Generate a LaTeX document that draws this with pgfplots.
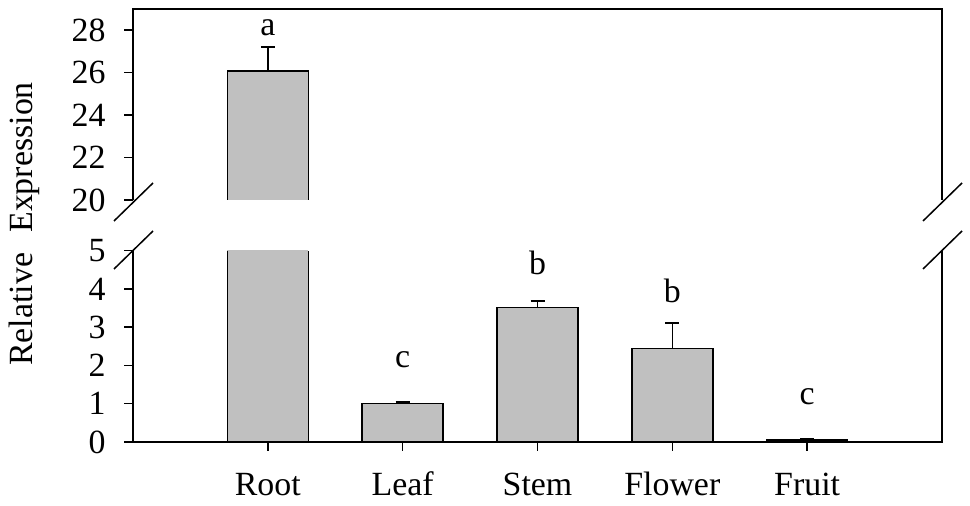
\documentclass[border=0pt]{standalone}
\usepackage{fontspec}
\setmainfont{Liberation Serif}
\usepackage{pgfplots}
\pgfplotsset{compat=1.18}
\usepackage{pgfplotstable}
\definecolor{barfill}{RGB}{192,192,192}
\pgfplotstableread{
x y e
2 1.00 0.05
3 3.51 0.17
4 2.45 0.66
5 0.05 0.04
}\data
\pgfplotstableread{
x y e
1 26.07 1.14
}\rootdata
\pgfplotsset{
  brk/.style={
    scale only axis, width=809bp, height=191bp,
    xmin=0, xmax=6,
    axis line style={draw=none},
    tick align=outside, major tick length=9bp,
    every tick/.style={black, line width=1.5bp},
    ytick pos=left, xtick pos=bottom,
    clip mode=individual,
    /pgf/number format/assume math mode=true,
    yticklabel style={xshift=-7bp},
    xticklabel style={text height=22bp, text depth=0pt, yshift=-11bp},
    anchor=south west,
  },
  barplot/.style={ybar, bar width=0.6, bar shift=0pt,
    fill=barfill, draw=black, line width=1.5bp,
    error bars/.cd, y dir=plus, y explicit,
    error bar style={line width=1.5bp, black},
    error mark options={black, line width=1.5bp, mark size=7bp, rotate=90}},
  rootfill/.style={ybar, bar width=0.6, bar shift=0pt,
    fill=barfill, draw=none,
    error bars/.cd, y dir=plus, y explicit,
    error bar style={line width=1.5bp, black},
    error mark options={black, line width=1.5bp, mark size=7bp, rotate=90}},
  edge/.style={black, line width=1.5bp, no marks, sharp plot, forget plot},
}
\begin{document}
\fontsize{34}{40}\selectfont
\begin{tikzpicture}
\useasboundingbox (0,0) rectangle (970bp,506bp);
% bottom axis
\begin{axis}[brk, at={(133bp,64bp)}, height=191.3bp, ymin=0, ymax=5,
  ytick={0,1,2,3,4,5}, xtick={1,2,3,4,5},
  xticklabels={Root,Leaf,Stem,Flower,Fruit}]
\addplot[rootfill] table[x=x, y=y, y error=e]{\rootdata};
\addplot[edge] coordinates {(0.7,0) (0.7,5)};
\addplot[edge] coordinates {(1.3,0) (1.3,5)};
\addplot[barplot] table[x=x, y=y, y error=e]{\data};
\draw[line width=1.5bp] (rel axis cs:0,1) -- (rel axis cs:0,0) -- (rel axis cs:1,0) -- (rel axis cs:1,1);
\node at (axis cs:2,2.14) {c};
\node at (axis cs:3,4.67) {b};
\node at (axis cs:4,3.95) {b};
\node at (axis cs:5,1.18) {c};
\end{axis}
% top axis
\begin{axis}[brk, at={(133bp,306bp)}, ymin=20, ymax=29,
  ytick={20,22,24,26,28}, xtick=\empty]
\addplot[rootfill] table[x=x, y=y, y error=e]{\rootdata};
\addplot[edge] coordinates {(0.7,20) (0.7,26.07) (1.3,26.07) (1.3,20)};
\draw[line width=1.5bp] (rel axis cs:0,0) -- (rel axis cs:0,1) -- (rel axis cs:1,1) -- (rel axis cs:1,0);
\node at (axis cs:1,28.1) {a};
\end{axis}
% break marks
\draw[line width=1.5bp] (114bp,285bp) -- (153bp,323bp);
\draw[line width=1.5bp] (114bp,237bp) -- (153bp,275bp);
\draw[line width=1.5bp] (923bp,285bp) -- (962bp,323bp);
\draw[line width=1.5bp] (923bp,237bp) -- (962bp,275bp);
\node[rotate=90] at (24bp,282bp) {Relative\hspace{0.6em}Expression};
\end{tikzpicture}
\end{document}
